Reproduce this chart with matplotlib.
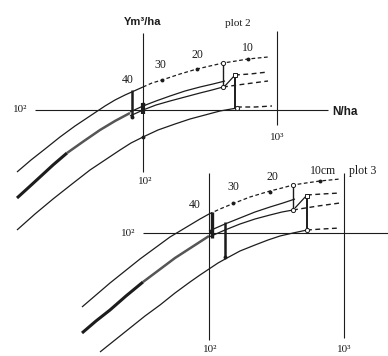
import numpy as np, matplotlib
matplotlib.use("Agg")
import matplotlib.pyplot as plt

# diagram, in pixel coordinates (x right, y down)
INK = "#1c1c1c"

# ---- top panel (plot 2) ----
top_axes_h = [(35, 110), (328, 110)]
top_axes_v = [(143, 33), (143, 172)]
top_axes_r = [(277, 31), (277, 125)]
top_a_solid = [(17, 172), (31, 160), (45, 149), (60, 137), (75, 126), (90, 116), (105, 106),
               (115, 100), (125, 95), (134, 91), (143, 87)]
top_a_dash = [(143, 87), (152, 83), (162, 80), (180, 74), (197, 69), (210, 66), (223, 63),
              (236, 61), (248, 59), (268, 57)]
top_b_thick = [(17, 198), (28, 188), (40, 177), (53, 165), (67, 153)]
top_b_band = [(67, 153), (84, 141), (100, 130), (115, 121), (130, 113)]
top_b1 = [(130, 112), (143, 106), (156, 101), (170, 96), (185, 91), (200, 87), (213, 84), (225, 81)]
top_b2 = [(130, 116), (143, 110), (156, 105), (170, 101), (185, 97), (200, 93), (212, 90), (223, 87)]
top_c = [(17, 230), (35, 214), (53, 199), (72, 184), (90, 170), (105, 160), (120, 150),
         (131, 143), (143, 137), (158, 130), (175, 124), (190, 119), (205, 115), (220, 111), (237, 108)]
top_dash_sq = [(235, 75), (250, 74), (268, 72)]
top_dash_b2 = [(223, 87), (245, 84), (268, 81)]
top_dash_c = [(237, 107), (255, 107), (272, 106)]
top_bars = [(223, 63, 87, 1.0), (235, 75, 108, 1.4), (132, 90, 117, 1.8), (143, 103, 114, 3.0)]
top_slash = [(224, 87), (235, 75)]
top_dots = [(162, 80), (197, 69), (248, 59), (132, 117), (143, 137), (143, 104)]
top_rings = [(223, 63), (223, 87), (237, 108)]
top_square = (235, 75)
top_labels = [("40", 128, 80), ("30", 160, 65), ("20", 197, 55), ("10", 248, 48)]

# ---- bottom panel (plot 3) ----
bot_axes_h = [(143, 233), (388, 233)]
bot_axes_v = [(209, 173), (209, 340)]
bot_axes_r = [(344, 173), (344, 338)]
bot_a_solid = [(82, 307), (96, 295), (110, 283), (125, 271), (140, 259), (155, 248), (170, 237),
               (180, 231), (190, 225), (200, 219), (209, 214)]
bot_a_dash = [(209, 214), (220, 209), (232, 204), (250, 197), (270, 191), (282, 188), (293, 185),
              (306, 183), (320, 181), (340, 179)]
bot_b_thick = [(82, 333), (96, 321), (110, 310), (126, 296), (143, 282)]
bot_b_band = [(143, 282), (159, 270), (175, 258), (192, 247), (209, 236)]
bot_b1 = [(209, 231), (225, 224), (240, 218), (255, 212), (270, 207), (283, 203), (295, 199)]
bot_b2 = [(209, 237), (225, 230), (240, 224), (255, 219), (270, 215), (282, 212), (293, 210)]
bot_c = [(100, 352), (115, 340), (130, 328), (145, 316), (160, 305), (175, 293), (190, 282),
         (200, 275), (209, 269), (218, 263), (227, 258), (240, 251), (255, 245), (268, 240),
         (280, 236), (293, 233), (307, 230)]
bot_dash_sq = [(307, 195), (322, 194), (340, 193)]
bot_dash_b2 = [(293, 210), (318, 206), (340, 203)]
bot_dash_c = [(307, 230), (322, 229), (340, 228)]
bot_bars = [(293, 185, 210, 1.0), (307, 195, 230, 1.4), (212, 212, 238, 2.4), (225, 222, 257, 1.8)]
bot_slash = [(295, 208), (307, 195)]
bot_dots = [(233, 203), (270, 192), (320, 181), (225, 257), (211, 232)]
bot_rings = [(293, 185), (293, 210), (307, 230)]
bot_square = (307, 196)
bot_labels = [("40", 195, 205), ("30", 233, 187), ("20", 272, 177), ("10cm", 323, 171)]

SERIF = ["Liberation Serif", "DejaVu Serif"]
SANS = ["Liberation Sans", "DejaVu Sans"]

fig = plt.figure(figsize=(3.88, 3.56), dpi=100)
ax = fig.add_axes([0, 0, 1, 1])
ax.set_xlim(0, 388); ax.set_ylim(356, 0); ax.axis("off")

def line(pts, lw=0.9, ls="-", **kw):
    p = np.array(pts, float)
    ax.plot(p[:, 0], p[:, 1], color=INK, lw=lw, ls=ls, solid_capstyle="butt",
            solid_joinstyle="round", **kw)

def panel(axh, axv, axr, a_s, a_d, b_t, b_b, b1, b2, c, d_sq, d_b2, d_c, bars, slash, dots, rings, sq, labels):
    for p in (axh, axv, axr):
        line(p, lw=0.8)
    line(a_s); line(a_d, ls=(0, (3, 2)))
    line(b_t, lw=2.2); line(b_b, lw=1.8, alpha=0.75)
    line(b1); line(b2); line(c)
    for d in (d_sq, d_b2, d_c):
        line(d, lw=1.0, ls=(0, (3.5, 2.5)))
    for x, y0, y1, w in bars:
        line([(x, y0), (x, y1)], lw=w)
    line(slash)
    for x, y in dots:
        ax.plot(x, y, "o", ms=1.8, color=INK)
    for x, y in rings:
        ax.plot(x, y, "o", ms=3.0, mfc="white", mec=INK, mew=0.7)
    ax.plot(*sq, "s", ms=3.2, mfc="white", mec=INK, mew=0.7)
    for t, x, y in labels:
        ax.text(x, y, t, family=SERIF, fontsize=8.5, ha="center", va="center", color=INK)

panel(top_axes_h, top_axes_v, top_axes_r, top_a_solid, top_a_dash, top_b_thick, top_b_band,
      top_b1, top_b2, top_c, top_dash_sq, top_dash_b2, top_dash_c, top_bars, top_slash,
      top_dots, top_rings, top_square, top_labels)
panel(bot_axes_h, bot_axes_v, bot_axes_r, bot_a_solid, bot_a_dash, bot_b_thick, bot_b_band,
      bot_b1, bot_b2, bot_c, bot_dash_sq, bot_dash_b2, bot_dash_c, bot_bars, bot_slash,
      bot_dots, bot_rings, bot_square, bot_labels)

# axis annotations
for t, x, y in [("10²", 20, 110), ("10²", 145, 181), ("10³", 277, 137),
                ("10²", 128, 233), ("10²", 210, 349), ("10³", 344, 349)]:
    ax.text(x, y, t, family=SERIF, fontsize=8, ha="center", va="center", color=INK)
ax.text(143, 22, "Ym³/ha", family=SANS, fontsize=8, weight="bold", ha="center", va="center", color=INK)
ax.text(332, 112, "N/ha", family=SANS, fontsize=8.5, weight="bold", ha="left", va="center", color=INK)
ax.text(238, 24, "plot 2", family=SERIF, fontsize=8, ha="center", va="center", color=INK)
ax.text(349, 171, "plot 3", family=SERIF, fontsize=8.5, ha="left", va="center", color=INK)

fig.savefig("out.png", dpi=100)
